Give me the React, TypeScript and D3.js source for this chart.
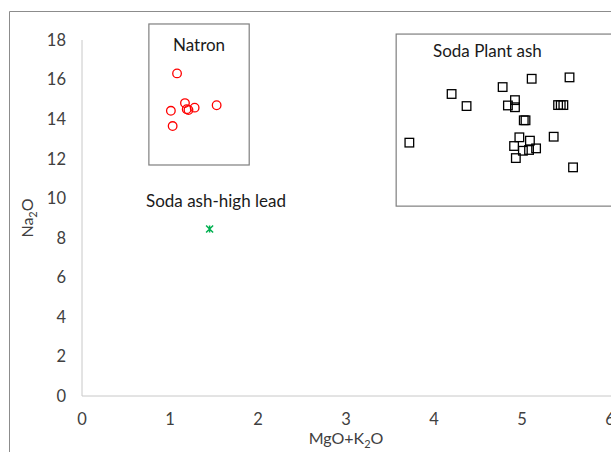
import React from "react";
import * as d3 from "d3";

const natronX = [1.08, 1.17, 1.01, 1.19, 1.21, 1.28, 1.53, 1.03];
const natronY = [16.31, 14.81, 14.42, 14.5, 14.46, 14.58, 14.7, 13.65];

const plantX = [3.72, 4.2, 4.37, 4.78, 5.11, 5.54, 4.84, 4.92, 4.92, 5.41, 5.44, 5.47, 5.02, 5.04, 4.97, 5.09, 5.36, 4.91, 5.01, 5.08, 5.16, 4.93, 5.58];
const plantY = [12.81, 15.27, 14.66, 15.62, 16.04, 16.11, 14.69, 14.96, 14.6, 14.71, 14.71, 14.71, 13.94, 13.94, 13.08, 12.91, 13.11, 12.64, 12.4, 12.44, 12.52, 12.03, 11.56];

const leadX = [1.45];
const leadY = [8.44];

const xTicks = [0, 1, 2, 3, 4, 5, 6];
const yTicks = [0, 2, 4, 6, 8, 10, 12, 14, 16, 18];

const W = 611;
const H = 452;
const FONT = "Lato, 'Open Sans', sans-serif";

export default function App() {
  const x = d3.scaleLinear().domain([0, 6]).range([82, 610]);
  const y = d3.scaleLinear().domain([0, 18]).range([396, 40]);

  const natronBox = { x0: 0.76, x1: 1.9, y0: 11.68, y1: 18.81 };
  const plantBox = { x0: 3.57, x1: 7, y0: 9.6, y1: 18.3 };

  const star = (cx: number, cy: number, s: number) =>
    `M${cx - s},${cy - s}L${cx + s},${cy + s}M${cx - s},${cy + s}L${cx + s},${cy - s}M${cx},${cy - s}L${cx},${cy + s}`;

  return (
    <div style={{ position: "fixed", left: 0, top: 0, width: W, height: H, background: "#fff" }}>
      <svg width={W} height={H} style={{ display: "block", fontFamily: FONT }}>
        <rect x={0} y={0} width={W} height={H} fill="#fff" />
        {/* outer chart border */}
        <path d={`M9.5,${H}L9.5,11.5L${W},11.5`} fill="none" stroke="#8c8c8c" strokeWidth={1} />

        {/* axes */}
        <line x1={x(0)} x2={x(0)} y1={y(18)} y2={y(0)} stroke="#c8c8c8" strokeWidth={1} />
        <line x1={x(0)} x2={W} y1={y(0)} y2={y(0)} stroke="#c8c8c8" strokeWidth={1} />

        {yTicks.map((t) => (
          <text key={"y" + t} x={66} y={y(t)} dy="0.36em" textAnchor="end" fontSize={16.5} fill="#404040">
            {t}
          </text>
        ))}
        {xTicks.map((t) => (
          <text key={"x" + t} x={x(t)} y={419} dy="0.36em" textAnchor="middle" fontSize={16.5} fill="#404040">
            {t}
          </text>
        ))}

        {/* axis titles */}
        <text x={x(3)} y={444} textAnchor="middle" fontSize={16} fill="#404040">
          MgO+K<tspan fontSize={11} dy={4}>2</tspan><tspan dy={-4}>O</tspan>
        </text>
        <text transform={`translate(33,${(y(0) + y(18)) / 2}) rotate(-90)`} textAnchor="middle" fontSize={16} fill="#404040">
          Na<tspan fontSize={11} dy={4}>2</tspan><tspan dy={-4}>O</tspan>
        </text>

        {/* annotation boxes */}
        <rect
          x={x(natronBox.x0)}
          y={y(natronBox.y1)}
          width={x(natronBox.x1) - x(natronBox.x0)}
          height={y(natronBox.y0) - y(natronBox.y1)}
          fill="none"
          stroke="#7f7f7f"
          strokeWidth={1.2}
        />
        <text x={(x(natronBox.x0) + x(natronBox.x1)) / 2} y={51} textAnchor="middle" fontSize={17} fill="#1a1a1a">
          Natron
        </text>

        <rect
          x={x(plantBox.x0)}
          y={y(plantBox.y1)}
          width={x(plantBox.x1) - x(plantBox.x0)}
          height={y(plantBox.y0) - y(plantBox.y1)}
          fill="none"
          stroke="#7f7f7f"
          strokeWidth={1.2}
        />
        <text x={433} y={57} fontSize={17} fill="#1a1a1a">
          Soda Plant ash
        </text>

        <text x={216} y={207} textAnchor="middle" fontSize={17} fill="#1a1a1a">
          Soda ash-high lead
        </text>

        {/* series */}
        {natronX.map((v, i) => (
          <circle key={"n" + i} cx={x(v)} cy={y(natronY[i])} r={4.3} fill="none" stroke="#ff0000" strokeWidth={1.3} />
        ))}
        {plantX.map((v, i) => (
          <rect
            key={"p" + i}
            x={x(v) - 4.3}
            y={y(plantY[i]) - 4.3}
            width={8.6}
            height={8.6}
            fill="none"
            stroke="#000"
            strokeWidth={1.3}
          />
        ))}
        {leadX.map((v, i) => (
          <path key={"l" + i} d={star(x(v), y(leadY[i]), 3.5)} stroke="#00b050" strokeWidth={1.5} fill="none" />
        ))}
      </svg>
    </div>
  );
}
